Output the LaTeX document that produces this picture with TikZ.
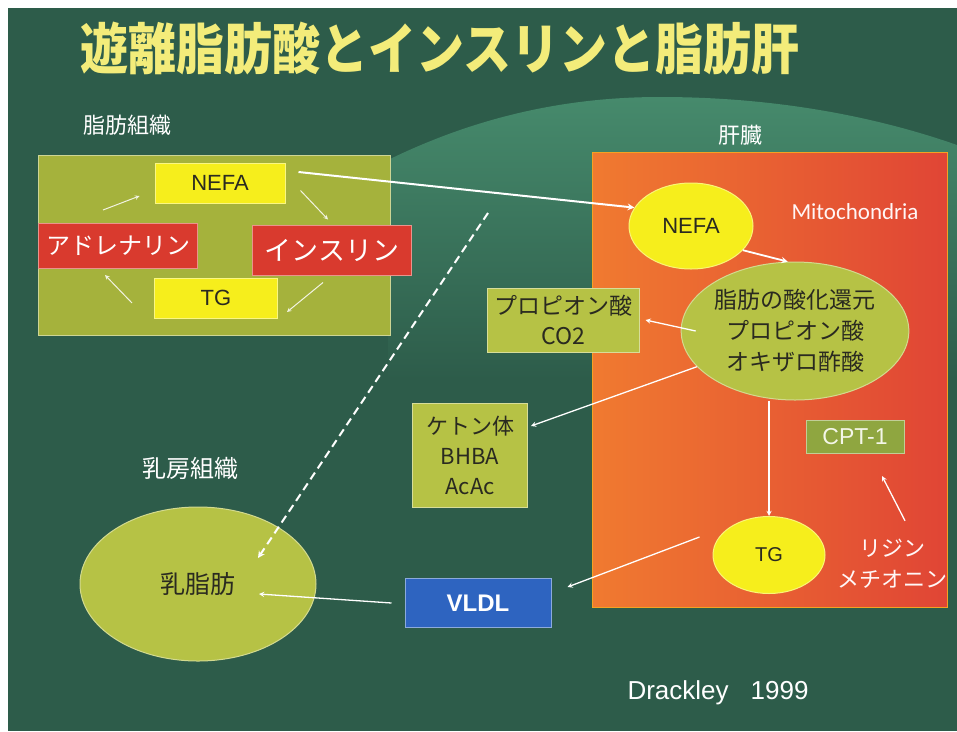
\documentclass[tikz,border=0pt]{standalone}
\usepackage{fontspec}
\setmainfont{Liberation Sans}
\newfontfamily\jp{Noto Sans CJK JP}
\newfontfamily\mitofont{Carlito}
\usetikzlibrary{positioning,calc,shapes.geometric}

\definecolor{bgdark}{HTML}{2D5C4A}
\definecolor{bglight}{HTML}{468A6C}
\definecolor{olive}{HTML}{A5B23C}
\definecolor{olivelt}{HTML}{B6C245}
\definecolor{olivedk}{HTML}{8FA640}
\definecolor{yel}{HTML}{F6EE1C}
\definecolor{redbox}{HTML}{D93A2E}
\definecolor{livl}{HTML}{F07A30}
\definecolor{livr}{HTML}{E04535}
\definecolor{vldlblue}{HTML}{2E64C0}
\definecolor{titleyel}{HTML}{F3EC7A}
\definecolor{txtdark}{HTML}{2A2A20}

\begin{document}
\begin{tikzpicture}[x=1pt,y=-1pt,>=stealth,
	box/.style={rectangle,draw=#1!55!white,fill=#1,line width=1pt,inner sep=0pt,align=center},
	blob/.style={ellipse,draw=#1!60!white,fill=#1,line width=1pt,inner sep=0pt,align=center},
	label/.style={text=white,font=\jp\fontsize{22}{26}\selectfont},
	arr/.style={->,draw=white,line width=1.3pt},
	thinarr/.style={->,draw=white!85!olive,line width=1pt}]
	\useasboundingbox (0,0) rectangle (957,731);
	\fill[white] (0,0) rectangle (957,731);
	\fill[bgdark] (8,8) rectangle (957,731);
	\shade[top color=bglight,middle color=bgdark!60!bglight,bottom color=bgdark]
		(388,160) .. controls (480,115) and (570,97) .. (660,97)
		.. controls (780,97) and (880,118) .. (957,145) -- (957,380) -- (388,380) -- cycle;
	% title
	\node[text=titleyel,font=\jp\bfseries\fontsize{48}{50}\selectfont,yscale=1.15,transform shape]
		(title) at (440,48) {遊離脂肪酸とインスリンと脂肪肝};
	% adipose tissue
	\node[label] (adipose) at (127,125) {脂肪組織};
	\node[box=olive,minimum width=352pt,minimum height=180pt] (adbox) at (214,245) {};
	\node[box=yel,minimum width=130pt,minimum height=40pt,text=txtdark,font=\fontsize{22}{26}\selectfont]
		(nefaL) at (220,183) {NEFA};
	\node[box=yel,minimum width=123pt,minimum height=40pt,text=txtdark,font=\fontsize{22}{26}\selectfont]
		(tgL) at (216,298) {TG};
	\node[box=redbox,minimum width=159pt,minimum height=45pt,text=white,font=\jp\fontsize{24}{28}\selectfont]
		(ad) at (118,246) {アドレナリン};
	\node[box=redbox,minimum width=159pt,minimum height=50pt,text=white,font=\jp\fontsize{27}{30}\selectfont]
		(ins) at (332,250) {インスリン};
	\draw[thinarr] ($(ad.north)+(-15,-13)$) -- ($(nefaL.west)+(-15,13)$);
	\draw[thinarr] ($(nefaL.south east)+(15,-13)$) -- ($(ins.north)+(-4,-5)$);
	\draw[thinarr] ($(ins.south)+(-9,7)$) -- ($(tgL.east)+(9,14)$);
	\draw[thinarr] ($(tgL.west)+(-22,5)$) -- ($(ad.south)+(-13,6)$);
	% liver
	\node[label] (liver) at (740,135) {肝臓};
	\node[rectangle,draw=livl!70!yellow,line width=1pt,left color=livl,right color=livr,
		minimum width=355pt,minimum height=455pt,inner sep=0pt] (livbox) at (770,380) {};
	\node[text=white!85!pink,font=\mitofont\fontsize{23}{26}\selectfont] (mito) at (855,212) {Mitochondria};
	\node[blob=yel,minimum width=124pt,minimum height=86pt,text=txtdark,font=\fontsize{22}{26}\selectfont]
		(nefaR) at (691,226) {NEFA};
	\node[blob=olivelt,minimum width=220pt,minimum height=138pt,text=txtdark,
		font=\jp\fontsize{23}{31}\selectfont] (oxid) at (795,331) {脂肪の酸化還元\\プロピオン酸\\オキザロ酢酸};
	\node[blob=yel,minimum width=112pt,minimum height=77pt,text=txtdark,font=\fontsize{20}{24}\selectfont]
		(tgR) at (769,555) {TG};
	\node[box=olivedk,minimum width=98pt,minimum height=33pt,text=white!88!olive,font=\fontsize{23}{26}\selectfont]
		(cpt) at (855,437) {CPT-1};
	\node[text=white!88!pink,font=\jp\fontsize{22}{31}\selectfont,align=center] (lys) at (892,564) {リジン\\メチオニン};
	% products
	\node[box=olivelt,minimum width=152pt,minimum height=64pt,text=txtdark,font=\jp\fontsize{23}{30}\selectfont]
		(prop) at (563,320) {プロピオン酸\\CO2};
	\node[box=olivelt,minimum width=115pt,minimum height=104pt,text=txtdark,font=\jp\fontsize{22}{30}\selectfont]
		(keto) at (470,455) {ケトン体\\BHBA\\AcAc};
	\node[box=vldlblue,minimum width=146pt,minimum height=49pt,text=white,font=\bfseries\fontsize{24}{28}\selectfont]
		(vldl) at (478,603) {VLDL};
	% mammary gland
	\node[label,font=\jp\fontsize{24}{28}\selectfont] (mammary) at (190,468) {乳房組織};
	\node[blob=olivelt,minimum width=236pt,minimum height=154pt,text=txtdark,font=\jp\fontsize{25}{28}\selectfont]
		(milk) at (198,584) {乳脂肪};
	\node[text=white,font=\fontsize{26}{30}\selectfont] (cite) at (718,693) {Drackley\hspace{22pt}1999};
	% connections
	\coordinate (dashstart) at (488,213);
	\draw[arr,line width=2pt] ($(nefaL.east)+(13,-11)$) -- (nefaR.162);
	\draw[arr,line width=1.8pt] (nefaR.-25) -- (oxid.96);
	\draw[arr] ($(oxid.west)+(15,0)$) -- ($(prop.east)+(6,0)$);
	\draw[arr] (oxid.200) -- ($(keto.east)+(3,-29)$);
	\draw[arr] (oxid.south -| tgR.north) -- (tgR.north);
	\draw[arr] ($(lys.north)+(13,-15)$) -- ($(cpt.south)+(27,22)$);
	\draw[arr] ($(tgR.west)+(-13,-18)$) -- ($(vldl.east)+(16,-16)$);
	\draw[arr] ($(vldl.west)+(-13,0)$) -- ($(milk.center)+(61,10)$);
	\draw[arr,line width=2pt,dash pattern=on 8pt off 5pt] (dashstart) -- ($(milk.center)+(60,-26)$);
\end{tikzpicture}
\end{document}
